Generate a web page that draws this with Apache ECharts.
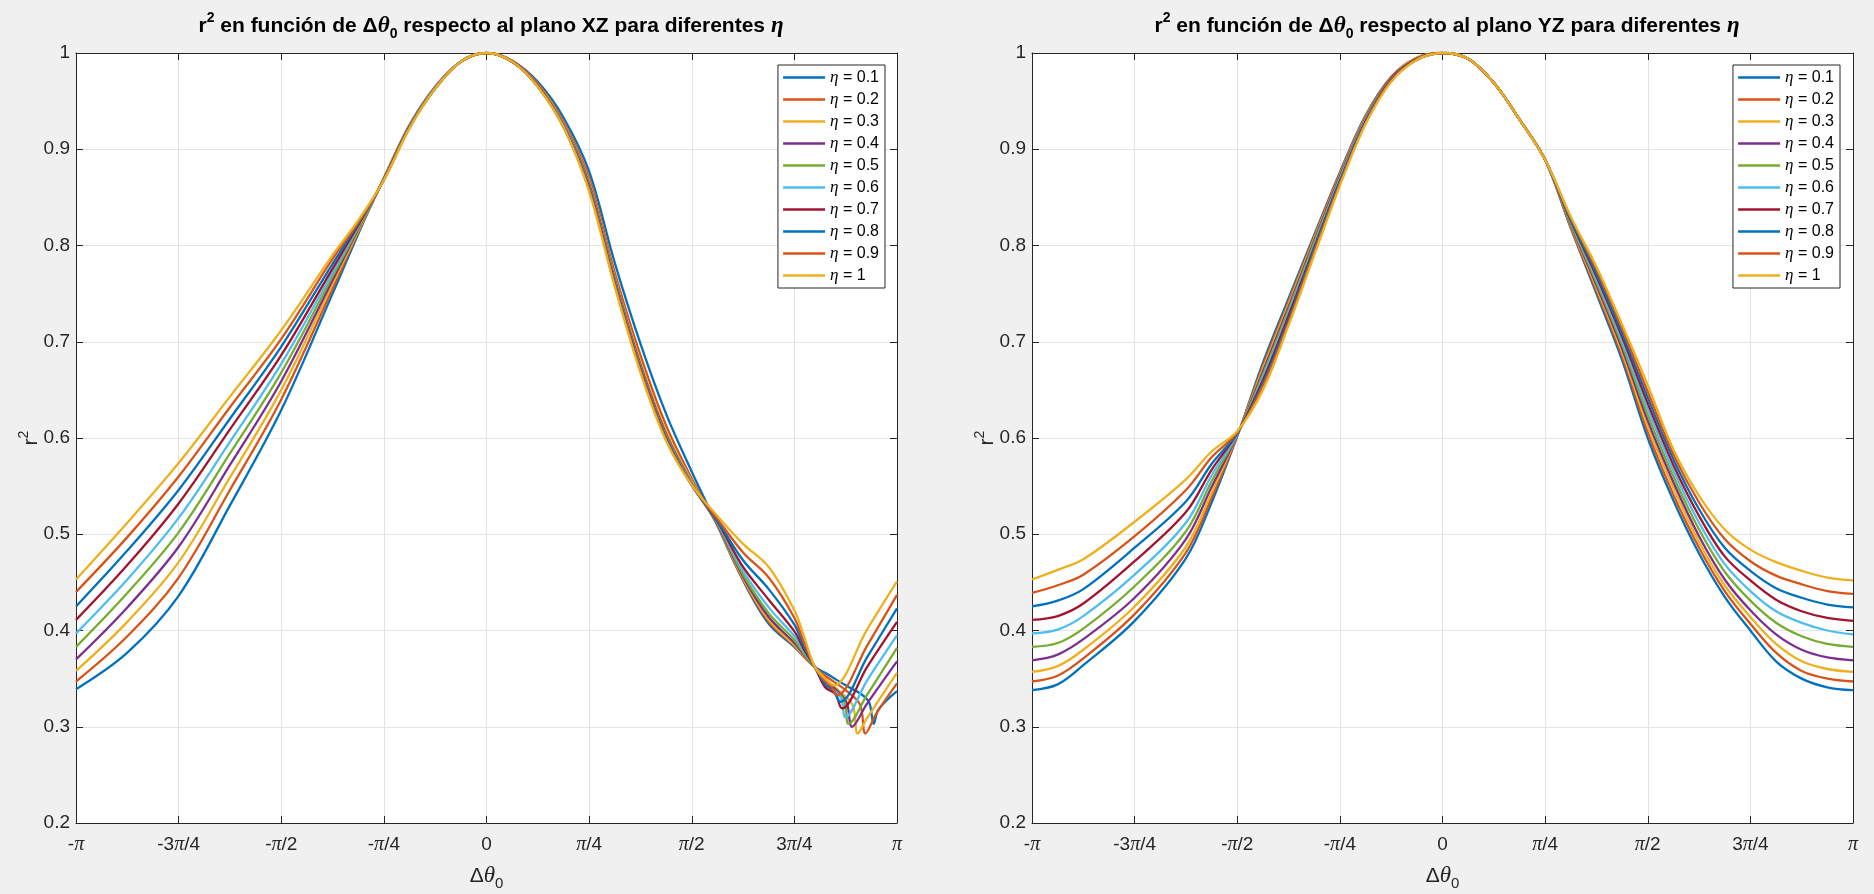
<!DOCTYPE html>
<html>
<head>
<meta charset="utf-8">
<title>r2 en función de Δθ0</title>
<script src="https://cdn.jsdelivr.net/npm/echarts@6/dist/echarts.min.js"></script>
<style>
  html, body { margin: 0; padding: 0; background: #f0f0f0; }
  #chart { width: 1874px; height: 894px; }
</style>
</head>
<body>
<div id="chart"></div>
<script>
// x is Δθ0 in units of π/4 (-4 .. 4)
const xTickLabels = ['-π', '-3π/4', '-π/2', '-π/4', '0', 'π/4', 'π/2', '3π/4', 'π'];
const etaNames = ['η = 0.1', 'η = 0.2', 'η = 0.3', 'η = 0.4', 'η = 0.5',
                  'η = 0.6', 'η = 0.7', 'η = 0.8', 'η = 0.9', 'η = 1'];
const lineColors = ['#0072BD', '#D95319', '#EDB120', '#7E2F8E', '#77AC30',
                    '#4DBEEE', '#A2142F', '#0072BD', '#D95319', '#EDB120'];

// plano XZ: common part up to the crossing at ~0.8π
const uGridXZ = [-4, -3.5, -3, -2.5, -2, -1.5, -1.25, -1, -0.75, -0.5, -0.25, 0,
                 0.25, 0.5, 0.75, 1, 1.25, 1.5, 1.75, 2, 2.25, 2.5, 2.75, 3, 3.1, 3.2];
const xz01 = [0.339, 0.377, 0.436, 0.530, 0.629, 0.750, 0.812, 0.870, 0.925, 0.965, 0.991, 1.000, 0.992, 0.970, 0.933, 0.877, 0.782, 0.698, 0.625, 0.565, 0.509, 0.452, 0.407, 0.383, 0.372, 0.362];
const xz02 = [0.347, 0.394, 0.455, 0.546, 0.640, 0.755, 0.814, 0.870, 0.925, 0.965, 0.991, 1.000, 0.992, 0.968, 0.929, 0.870, 0.772, 0.686, 0.613, 0.558, 0.509, 0.453, 0.409, 0.384, 0.372, 0.362];
const xz03 = [0.358, 0.409, 0.471, 0.559, 0.650, 0.760, 0.815, 0.870, 0.924, 0.964, 0.991, 1.000, 0.991, 0.967, 0.927, 0.866, 0.767, 0.679, 0.607, 0.555, 0.510, 0.454, 0.411, 0.385, 0.373, 0.362];
const xz04 = [0.370, 0.424, 0.487, 0.572, 0.659, 0.764, 0.817, 0.869, 0.924, 0.964, 0.991, 1.000, 0.991, 0.966, 0.926, 0.864, 0.765, 0.676, 0.604, 0.553, 0.510, 0.456, 0.414, 0.387, 0.374, 0.362];
const xz05 = [0.383, 0.439, 0.502, 0.584, 0.668, 0.768, 0.818, 0.869, 0.924, 0.964, 0.991, 1.000, 0.991, 0.966, 0.925, 0.862, 0.763, 0.674, 0.602, 0.552, 0.511, 0.458, 0.418, 0.390, 0.375, 0.362];
const xz06 = [0.397, 0.453, 0.517, 0.596, 0.677, 0.772, 0.820, 0.869, 0.923, 0.964, 0.991, 1.000, 0.991, 0.966, 0.925, 0.861, 0.762, 0.673, 0.601, 0.552, 0.512, 0.462, 0.424, 0.394, 0.377, 0.362];
const xz07 = [0.411, 0.468, 0.532, 0.609, 0.686, 0.776, 0.821, 0.869, 0.923, 0.963, 0.991, 1.000, 0.991, 0.966, 0.924, 0.860, 0.761, 0.672, 0.600, 0.551, 0.513, 0.466, 0.432, 0.399, 0.379, 0.362];
const xz08 = [0.425, 0.483, 0.546, 0.620, 0.695, 0.781, 0.823, 0.868, 0.923, 0.963, 0.991, 1.000, 0.991, 0.965, 0.924, 0.859, 0.760, 0.671, 0.599, 0.551, 0.514, 0.473, 0.443, 0.406, 0.382, 0.362];
const xz09 = [0.440, 0.497, 0.560, 0.632, 0.703, 0.786, 0.824, 0.868, 0.922, 0.963, 0.991, 1.000, 0.991, 0.965, 0.923, 0.858, 0.759, 0.670, 0.598, 0.551, 0.516, 0.481, 0.455, 0.413, 0.386, 0.362];
const xz10 = [0.453, 0.512, 0.574, 0.643, 0.712, 0.790, 0.826, 0.868, 0.922, 0.963, 0.991, 1.000, 0.991, 0.965, 0.923, 0.856, 0.757, 0.668, 0.597, 0.551, 0.519, 0.490, 0.466, 0.421, 0.392, 0.362];

// plano XZ: the dips after the crossing, [u, r2]
const xzDip01 = [[3.3, 0.356], [3.5, 0.343], [3.65, 0.334], [3.73, 0.325], [3.773, 0.303], [3.82, 0.318], [4, 0.337]];
const xzDip02 = [[3.3, 0.353], [3.5, 0.338], [3.64, 0.323], [3.692, 0.293], [3.8, 0.314], [4, 0.345]];
const xzDip03 = [[3.3, 0.350], [3.45, 0.336], [3.57, 0.322], [3.617, 0.293], [3.708, 0.309], [4, 0.356]];
const xzDip04 = [[3.3, 0.348], [3.42, 0.337], [3.51, 0.325], [3.562, 0.300], [3.708, 0.324], [4, 0.368]];
const xzDip05 = [[3.3, 0.346], [3.48, 0.328], [3.529, 0.303], [3.708, 0.333], [4, 0.382]];
const xzDip06 = [[3.3, 0.344], [3.45, 0.331], [3.497, 0.310], [3.708, 0.348], [4, 0.395]];
const xzDip07 = [[3.3, 0.341], [3.40, 0.334], [3.464, 0.319], [3.708, 0.362], [4, 0.409]];
const xzDip08 = [[3.3, 0.344], [3.38, 0.338], [3.448, 0.326], [3.708, 0.372], [4, 0.423]];
const xzDip09 = [[3.3, 0.347], [3.35, 0.343], [3.416, 0.333], [3.708, 0.384], [4, 0.437]];
const xzDip10 = [[3.3, 0.350], [3.383, 0.343], [3.708, 0.401], [4, 0.451]];

// plano YZ
const uGridYZ = [-4, -3.75, -3.5, -3, -2.5, -2.25, -2, -1.75, -1.5, -1.25, -1, -0.75, -0.5, -0.25, 0,
                 0.25, 0.5, 0.75, 1, 1.25, 1.5, 1.75, 2, 2.25, 2.5, 2.75, 3, 3.25, 3.5, 3.75, 4];
const yz01 = [0.338, 0.344, 0.364, 0.410, 0.475, 0.533, 0.602, 0.678, 0.745, 0.811, 0.876, 0.935, 0.975, 0.995, 1.000, 0.994, 0.969, 0.931, 0.889, 0.818, 0.750, 0.681, 0.600, 0.535, 0.480, 0.435, 0.400, 0.368, 0.350, 0.341, 0.338];
const yz02 = [0.347, 0.353, 0.371, 0.417, 0.481, 0.538, 0.602, 0.675, 0.742, 0.809, 0.875, 0.934, 0.975, 0.995, 1.000, 0.994, 0.969, 0.931, 0.889, 0.819, 0.753, 0.685, 0.606, 0.541, 0.486, 0.441, 0.407, 0.377, 0.358, 0.350, 0.347];
const yz03 = [0.357, 0.363, 0.380, 0.425, 0.487, 0.543, 0.603, 0.672, 0.739, 0.807, 0.873, 0.933, 0.974, 0.995, 1.000, 0.994, 0.969, 0.931, 0.889, 0.821, 0.756, 0.689, 0.612, 0.548, 0.492, 0.447, 0.414, 0.386, 0.368, 0.360, 0.357];
const yz04 = [0.369, 0.375, 0.391, 0.434, 0.495, 0.549, 0.603, 0.669, 0.736, 0.805, 0.872, 0.932, 0.974, 0.994, 1.000, 0.994, 0.969, 0.931, 0.889, 0.822, 0.759, 0.693, 0.618, 0.554, 0.498, 0.453, 0.421, 0.396, 0.380, 0.372, 0.369];
const yz05 = [0.383, 0.387, 0.402, 0.446, 0.503, 0.555, 0.604, 0.666, 0.733, 0.803, 0.870, 0.931, 0.973, 0.994, 1.000, 0.994, 0.969, 0.931, 0.889, 0.823, 0.762, 0.697, 0.624, 0.560, 0.505, 0.461, 0.431, 0.408, 0.394, 0.386, 0.383];
const yz06 = [0.397, 0.401, 0.415, 0.458, 0.512, 0.561, 0.604, 0.663, 0.730, 0.800, 0.869, 0.930, 0.972, 0.994, 1.000, 0.994, 0.969, 0.931, 0.889, 0.825, 0.765, 0.701, 0.630, 0.566, 0.512, 0.469, 0.441, 0.420, 0.408, 0.400, 0.396];
const yz07 = [0.411, 0.415, 0.428, 0.472, 0.523, 0.567, 0.605, 0.660, 0.727, 0.798, 0.867, 0.929, 0.972, 0.994, 1.000, 0.994, 0.969, 0.931, 0.889, 0.826, 0.768, 0.705, 0.636, 0.572, 0.519, 0.477, 0.452, 0.432, 0.420, 0.413, 0.410];
const yz08 = [0.425, 0.431, 0.443, 0.486, 0.534, 0.573, 0.605, 0.657, 0.723, 0.796, 0.866, 0.928, 0.971, 0.993, 1.000, 0.994, 0.969, 0.931, 0.889, 0.827, 0.771, 0.709, 0.642, 0.578, 0.526, 0.486, 0.462, 0.444, 0.434, 0.427, 0.424];
const yz09 = [0.439, 0.447, 0.458, 0.498, 0.546, 0.580, 0.606, 0.654, 0.720, 0.793, 0.864, 0.927, 0.971, 0.993, 1.000, 0.994, 0.969, 0.931, 0.889, 0.829, 0.775, 0.714, 0.648, 0.583, 0.533, 0.495, 0.472, 0.457, 0.448, 0.441, 0.438];
const yz10 = [0.453, 0.463, 0.474, 0.513, 0.557, 0.586, 0.607, 0.650, 0.717, 0.790, 0.862, 0.926, 0.970, 0.993, 1.000, 0.994, 0.969, 0.931, 0.889, 0.830, 0.778, 0.718, 0.655, 0.588, 0.540, 0.505, 0.484, 0.471, 0.462, 0.455, 0.452];

const xzValues = [xz01, xz02, xz03, xz04, xz05, xz06, xz07, xz08, xz09, xz10];
const xzDips = [xzDip01, xzDip02, xzDip03, xzDip04, xzDip05, xzDip06, xzDip07, xzDip08, xzDip09, xzDip10];
const yzValues = [yz01, yz02, yz03, yz04, yz05, yz06, yz07, yz08, yz09, yz10];

const sans = 'Liberation Sans, Arial, Helvetica, sans-serif';
const serif = 'Liberation Serif, Times New Roman, serif';
const axisColor = '#262626';
const gridColor = '#e3e3e3';

const richTitle = {
  b: { fontFamily: sans, fontSize: 21, fontWeight: 'bold', color: '#000', lineHeight: 30 },
  sup: { fontFamily: sans, fontSize: 14, fontWeight: 'bold', color: '#000', lineHeight: 15, verticalAlign: 'top' },
  sub: { fontFamily: sans, fontSize: 14, fontWeight: 'bold', color: '#000', lineHeight: 15, verticalAlign: 'bottom' },
  it: { fontFamily: serif, fontSize: 23, fontStyle: 'italic', color: '#000', lineHeight: 30 }
};

function titleFor(plane, centerX) {
  return {
    text: '{b|r}{sup|2}{b| en función de Δ}{it|θ}{sub|0}{b| respecto al plano ' + plane + ' para diferentes }{it|η}',
    left: centerX,
    top: 6,
    textAlign: 'center',
    textStyle: { rich: richTitle }
  };
}

function xAxesFor(gridIndex) {
  return [{
    type: 'value', gridIndex: gridIndex, min: -4, max: 4, interval: 1,
    axisLine: { show: true, onZero: false, lineStyle: { color: axisColor, width: 1 } },
    axisTick: { show: true, inside: true, length: 7, lineStyle: { color: axisColor } },
    axisLabel: {
      color: axisColor, fontFamily: sans, fontSize: 19, margin: 12,
      formatter: v => xTickLabels[Math.round(v) + 4].replace('π', '{p|π}'),
      rich: { p: { fontFamily: serif, fontStyle: 'italic', fontSize: 20, color: axisColor } }
    },
    splitLine: { show: true, lineStyle: { color: gridColor, width: 1 } },
    name: '{n|Δ}{it|θ}{sub|0}',
    nameLocation: 'middle',
    nameGap: 38,
    nameMoveOverlap: false,
    nameTextStyle: {
      rich: {
        n: { fontFamily: sans, fontSize: 21, color: axisColor, lineHeight: 30 },
        it: { fontFamily: serif, fontSize: 23, fontStyle: 'italic', color: axisColor, lineHeight: 30 },
        sub: { fontFamily: sans, fontSize: 15, color: axisColor, lineHeight: 14, verticalAlign: 'bottom' }
      }
    }
  }, {
    type: 'value', gridIndex: gridIndex, position: 'top', min: -4, max: 4, interval: 1,
    axisLine: { show: true, onZero: false, lineStyle: { color: axisColor, width: 1 } },
    axisTick: { show: true, inside: true, length: 7, lineStyle: { color: axisColor } },
    axisLabel: { show: false },
    splitLine: { show: false }
  }];
}

function yAxesFor(gridIndex) {
  return [{
    type: 'value', gridIndex: gridIndex, min: 0.2, max: 1, interval: 0.1,
    axisLine: { show: true, onZero: false, lineStyle: { color: axisColor, width: 1 } },
    axisTick: { show: true, inside: true, length: 7, lineStyle: { color: axisColor } },
    axisLabel: {
      color: axisColor, fontFamily: sans, fontSize: 19, margin: 6,
      formatter: v => String(Math.round(v * 10) / 10)
    },
    splitLine: { show: true, lineStyle: { color: gridColor, width: 1 } },
    name: '{n|r}{sup|2}',
    nameLocation: 'middle',
    nameRotate: 90,
    nameGap: 31,
    nameMoveOverlap: false,
    nameTextStyle: {
      rich: {
        n: { fontFamily: sans, fontSize: 21, color: axisColor, lineHeight: 28 },
        sup: { fontFamily: sans, fontSize: 14, color: axisColor, lineHeight: 14, verticalAlign: 'top' }
      }
    }
  }, {
    type: 'value', gridIndex: gridIndex, position: 'right', min: 0.2, max: 1, interval: 0.1,
    axisLine: { show: true, onZero: false, lineStyle: { color: axisColor, width: 1 } },
    axisTick: { show: true, inside: true, length: 7, lineStyle: { color: axisColor } },
    axisLabel: { show: false },
    splitLine: { show: false }
  }];
}

function legendFor(rightPx) {
  return {
    data: etaNames,
    orient: 'vertical',
    right: rightPx,
    top: 65,
    backgroundColor: '#fff',
    borderColor: axisColor,
    borderWidth: 1,
    borderRadius: 0,
    padding: [4, 6, 4, 4],
    itemGap: 5,
    itemWidth: 42,
    itemHeight: 14,
    selectedMode: false,
    itemStyle: { opacity: 0 },
    lineStyle: { width: 2.3 },
    formatter: name => name.replace('η', '{it|η}'),
    textStyle: {
      fontFamily: sans, fontSize: 16, color: '#000', lineHeight: 17,
      rich: { it: { fontFamily: serif, fontStyle: 'italic', fontSize: 17, color: '#000', lineHeight: 17 } }
    }
  };
}

const series = [];
etaNames.forEach((name, k) => {
  const xzData = uGridXZ.map((u, i) => [u, xzValues[k][i]]).concat(xzDips[k]);
  const yzData = uGridYZ.map((u, i) => [u, yzValues[k][i]]);
  [[xzData, 0], [yzData, 2]].forEach(([data, axisIdx]) => {
    series.push({
      name: name,
      type: 'line',
      xAxisIndex: axisIdx,
      yAxisIndex: axisIdx,
      data: data,
      symbol: 'none',
      smooth: 0.35,
      lineStyle: { width: 2.3, color: lineColors[k] },
      itemStyle: { color: lineColors[k] },
      emphasis: { disabled: true }
    });
  });
});

const chart = echarts.init(document.getElementById('chart'));
chart.setOption({
  backgroundColor: '#f0f0f0',
  animation: false,
  title: [titleFor('XZ', 486), titleFor('YZ', 1442)],
  legend: [legendFor(989), legendFor(34)],
  grid: [
    { left: 76, top: 53, width: 821, height: 770, show: true, backgroundColor: '#fff', borderWidth: 0,
      containLabel: false, outerBoundsMode: 'none' },
    { left: 1032, top: 53, width: 821, height: 770, show: true, backgroundColor: '#fff', borderWidth: 0,
      containLabel: false, outerBoundsMode: 'none' }
  ],
  xAxis: xAxesFor(0).concat(xAxesFor(1)),
  yAxis: yAxesFor(0).concat(yAxesFor(1)),
  series: series
});
</script>
</body>
</html>
